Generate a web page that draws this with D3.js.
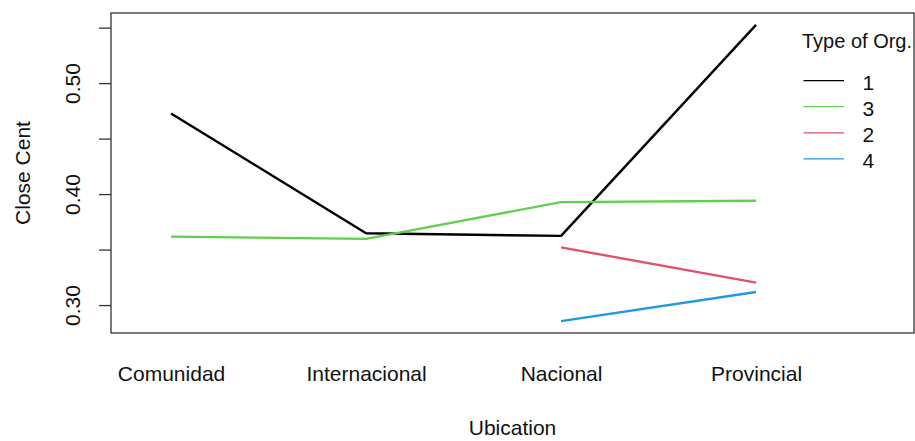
<!DOCTYPE html>
<html>
<head>
<meta charset="utf-8">
<script src="https://cdn.jsdelivr.net/npm/d3@7"></script>
<style>
  html, body { margin: 0; padding: 0; background: #fff; }
  svg { display: block; font-family: "Liberation Sans", Arial, sans-serif; }
</style>
</head>
<body>
<svg id="chart" width="915" height="441"></svg>
<script>
// Mean closeness centrality by location, one line per organisation type
const categories = ["Comunidad", "Internacional", "Nacional", "Provincial"];
const seriesNames = ["1", "2", "3", "4"];
const values1 = [0.4726, 0.3647, 0.3623, 0.5525];
const values2 = [null, null, 0.3520, 0.3202];
const values3 = [0.3617, 0.3596, 0.3928, 0.3940];
const values4 = [null, null, 0.2855, 0.3118];
const seriesColors = ["#000000", "#DF536B", "#61D04F", "#2297E6"];
const legendOrder = ["1", "3", "2", "4"];
const yTicks = [0.30, 0.35, 0.40, 0.45, 0.50, 0.55];
const yTickLabels = ["0.30", "", "0.40", "", "0.50", ""];
const xTitle = "Ubication";
const yTitle = "Close Cent";
const legendTitle = "Type of Org.";

const FS = 21;
const seriesValues = [values1, values2, values3, values4];
const series = seriesNames.map((name, i) => ({
  name,
  color: seriesColors[i],
  points: categories.map((c, j) => ({ idx: j + 1, v: seriesValues[i][j] }))
}));

const svg = d3.select("#chart");
const plot = { left: 111, right: 914, top: 13, bottom: 333 };

// x: factor levels at 1..4, with extra room on the right for the legend
const x = d3.scaleLinear().domain([0.692, 4.81]).range([plot.left, plot.right]);

// y: data range padded by 4% on each side
const all = seriesValues.flat().filter(v => v != null);
const [lo, hi] = d3.extent(all);
const pad = (hi - lo) * 0.04;
const y = d3.scaleLinear().domain([lo - pad, hi + pad]).range([plot.bottom, plot.top]);

// plot frame
svg.append("rect")
  .attr("x", plot.left).attr("y", plot.top)
  .attr("width", plot.right - plot.left).attr("height", plot.bottom - plot.top)
  .attr("fill", "none").attr("stroke", "#333").attr("stroke-width", 1.3);

// y axis
const yAxis = d3.axisLeft(y).tickValues(yTicks).tickSize(12).tickPadding(0)
  .tickFormat((d, i) => yTickLabels[i]);
const gy = svg.append("g").attr("transform", `translate(${plot.left},0)`).call(yAxis);
gy.select(".domain").remove();
gy.selectAll(".tick line").attr("stroke", "#333").attr("stroke-width", 1.3);
gy.selectAll(".tick text")
  .attr("font-size", FS).attr("fill", "#111")
  .attr("text-anchor", "middle")
  .attr("x", null).attr("dy", null)
  .attr("transform", "translate(-31,0) rotate(-90)")
  .attr("y", 0);

// x category labels (no axis line or ticks)
const xAxis = d3.axisBottom(x).tickValues(d3.range(1, categories.length + 1))
  .tickSize(0).tickPadding(0).tickFormat((d) => categories[d - 1]);
const gx = svg.append("g").attr("transform", `translate(0,${plot.bottom})`).call(xAxis);
gx.select(".domain").remove();
gx.selectAll(".tick text")
  .attr("font-size", FS).attr("fill", "#111")
  .attr("dy", null).attr("y", 48);

// axis titles
svg.append("text")
  .attr("x", (plot.left + plot.right) / 2).attr("y", 435)
  .attr("text-anchor", "middle").attr("font-size", FS).attr("fill", "#111")
  .text(xTitle);
svg.append("text")
  .attr("transform", `translate(30,${(plot.top + plot.bottom) / 2}) rotate(-90)`)
  .attr("text-anchor", "middle").attr("font-size", FS).attr("fill", "#111")
  .text(yTitle);

// lines
const line = d3.line()
  .defined(d => d.v != null)
  .x(d => x(d.idx))
  .y(d => y(d.v));

svg.append("clipPath").attr("id", "plotClip")
  .append("rect")
  .attr("x", plot.left).attr("y", plot.top)
  .attr("width", plot.right - plot.left).attr("height", plot.bottom - plot.top);

const gLines = svg.append("g").attr("clip-path", "url(#plotClip)");
gLines.selectAll("path.series")
  .data(series)
  .join("path")
  .attr("class", "series")
  .attr("fill", "none")
  .attr("stroke", d => d.color)
  .attr("stroke-width", 2.4)
  .attr("stroke-linejoin", "round")
  .attr("d", d => line(d.points));

// legend in the right margin of the plot area
const gLeg = svg.append("g");
gLeg.append("text")
  .attr("x", 802).attr("y", 47.5)
  .attr("font-size", 20).attr("fill", "#111")
  .text(legendTitle);

const legItems = legendOrder.map(n => series.find(s => s.name === n));
const legY = d3.scaleBand().domain(legendOrder).range([67.5, 172]);
const items = gLeg.selectAll("g.item").data(legItems).join("g")
  .attr("class", "item")
  .attr("transform", d => `translate(0,${legY(d.name) + legY.bandwidth() / 2})`);
items.append("line")
  .attr("x1", 803.5).attr("x2", 844)
  .attr("stroke", d => d.color).attr("stroke-width", 1.3);
items.append("text")
  .attr("x", 862.5).attr("y", 9)
  .attr("font-size", FS).attr("fill", "#111")
  .text(d => d.name);
</script>
</body>
</html>
